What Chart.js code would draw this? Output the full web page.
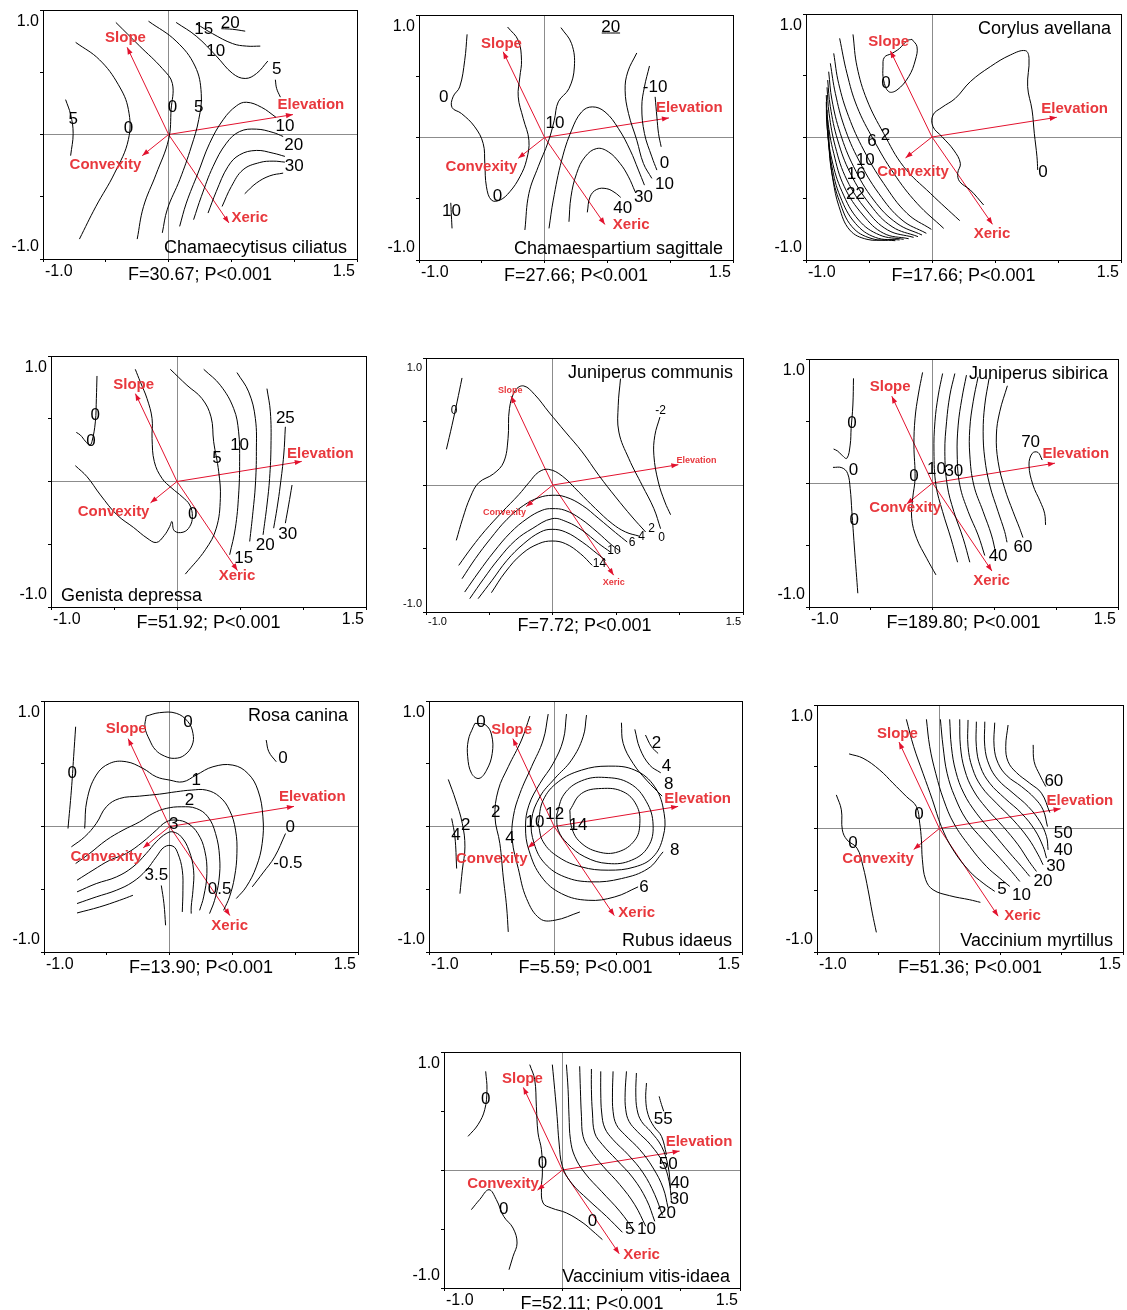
<!DOCTYPE html>
<html>
<head>
<meta charset="utf-8">
<script src="https://cdn.jsdelivr.net/npm/chart.js@4.4.0/dist/chart.umd.min.js"></script>
<style>
  body { margin: 0; background: #fff; width: 1127px; height: 1310px; position: relative; overflow: hidden; }
  canvas { position: absolute; }
</style>
</head>
<body>
<script>
// biplot arrows, same for every species
const envNames = ['Slope', 'Elevation', 'Convexity', 'Xeric'];
const envX = [-0.33, 0.99, -0.21, 0.48];
const envY = [0.70, 0.16, -0.17, -0.71];

const speciesNames = ['Chamaecytisus ciliatus', 'Chamaespartium sagittale', 'Corylus avellana',
  'Genista depressa', 'Juniperus communis', 'Juniperus sibirica', 'Rosa canina', 'Rubus idaeus',
  'Vaccinium myrtillus', 'Vaccinium vitis-idaea'];
const fTests = ['F=30.67; P<0.001', 'F=27.66; P<0.001', 'F=17.66; P<0.001', 'F=51.92; P<0.001',
  'F=7.72; P<0.001', 'F=189.80; P<0.001', 'F=13.90; P<0.001', 'F=5.59; P<0.001',
  'F=51.36; P<0.001', 'F=52.11; P<0.001'];
const xTickText = ['-1.0', '1.5'];
const yTickText = ['-1.0', '1.0'];

// contour lines (x, y in ordination units) and their labels
const ciliatusLines = [
  [[-0.82,0.28],[-0.78,0.16],[-0.76,0.01],[-0.78,-0.17]],
  [[-0.74,0.74],[-0.55,0.60],[-0.40,0.40],[-0.32,0.20],[-0.32,-0.04],[-0.43,-0.31],[-0.58,-0.58],[-0.71,-0.84]],
  [[-0.42,0.90],[-0.23,0.71],[-0.05,0.53],[0.03,0.41],[0.02,0.20],[0.00,-0.04],[-0.10,-0.32],[-0.20,-0.58],[-0.25,-0.84]],
  [[-0.16,0.91],[0.06,0.75],[0.21,0.55],[0.26,0.33],[0.24,0.12],[0.18,-0.10],[0.09,-0.36],[-0.01,-0.60],[-0.05,-0.79]],
  [[0.06,0.90],[0.22,0.79],[0.38,0.63],[0.51,0.49],[0.61,0.45],[0.70,0.49],[0.79,0.59]],
  [[0.22,0.89],[0.35,0.81],[0.51,0.73],[0.62,0.71],[0.73,0.71]],
  [[0.42,0.85],[0.51,0.845],[0.61,0.83]],
  [[0.85,0.44],[0.86,0.37],[0.89,0.30]],
  [[0.088,-0.738],[0.141,-0.551],[0.234,-0.310],[0.327,-0.070],[0.434,0.118],[0.540,0.230],[0.620,0.259],[0.739,0.219],[0.854,0.139]],
  [[0.199,-0.684],[0.261,-0.497],[0.354,-0.257],[0.460,-0.070],[0.566,0.024],[0.699,0.043],[0.832,0.016],[0.912,-0.016]],
  [[0.314,-0.631],[0.380,-0.457],[0.473,-0.257],[0.566,-0.163],[0.699,-0.128],[0.832,-0.150],[0.926,-0.176]],
  [[0.426,-0.578],[0.500,-0.417],[0.593,-0.283],[0.726,-0.225],[0.832,-0.214],[0.926,-0.222]],
  [[0.606,-0.476],[0.699,-0.390],[0.806,-0.332],[0.912,-0.310]]
];
const ciliatusText = [['5',-0.76,0.12],['0',-0.32,0.05],['0',0.03,0.22],['5',0.24,0.22],['10',0.375,0.67],
  ['15',0.28,0.845],['20',0.49,0.89],['5',0.86,0.52],['10',0.926,0.064],['20',0.997,-0.088],['30',1.0,-0.257]];

const sagittaleLines = [
  [[-0.617,0.842],[-0.636,0.630],[-0.676,0.413],[-0.729,0.332],[-0.737,0.245],[-0.662,0.196],[-0.556,0.087],[-0.489,-0.049],[-0.476,-0.212],[-0.463,-0.402],[-0.423,-0.511],[-0.356,-0.511],[-0.277,-0.443],[-0.197,-0.321],[-0.144,-0.185],[-0.125,-0.022],[-0.170,0.155],[-0.210,0.332],[-0.197,0.495],[-0.184,0.630],[-0.210,0.793],[-0.295,0.902]],
  [[0.130,0.897],[0.215,0.766],[0.237,0.576],[0.194,0.399],[0.109,0.291],[0.077,0.141],[0.029,-0.035],[-0.051,-0.239],[-0.125,-0.457],[-0.157,-0.755]],
  [[-0.747,-0.533],[-0.742,-0.64],[-0.737,-0.742]],
  [[0.455,0.853],[0.601,0.853]],
  [[0.035,-0.742],[0.069,-0.511],[0.136,-0.185],[0.215,0.060],[0.295,0.209],[0.380,0.250],[0.481,0.209],[0.588,0.073],[0.681,-0.103],[0.747,-0.266],[0.795,-0.389]],
  [[0.194,-0.688],[0.210,-0.484],[0.255,-0.293],[0.322,-0.158],[0.415,-0.090],[0.508,-0.117],[0.601,-0.212],[0.668,-0.321],[0.721,-0.443]],
  [[0.340,-0.611],[0.362,-0.484],[0.415,-0.424],[0.495,-0.418],[0.561,-0.451],[0.606,-0.489]],
  [[0.734,0.690],[0.662,0.535],[0.641,0.386],[0.668,0.196],[0.734,-0.022],[0.787,-0.212],[0.854,-0.334]],
  [[0.835,0.584],[0.795,0.413],[0.774,0.250],[0.795,0.033],[0.854,-0.158],[0.894,-0.266]],
  [[0.880,0.332],[0.894,0.168],[0.907,0.033],[0.928,-0.076]]
];
const sagittaleText = [['0',-0.803,0.326],['0',-0.375,-0.484],['10',0.082,0.114],['10',-0.742,-0.606],['20',0.527,0.902],
  ['30',0.787,-0.492],['40',0.622,-0.579],['10',0.955,-0.383],['0',0.955,-0.207],['-10',0.880,0.408]];

const avellanaLines = [
  [[-0.627,0.834],[-0.595,0.572],[-0.516,0.301],[-0.384,0.030],[-0.225,-0.241],[-0.013,-0.458],[0.220,-0.680]],
  [[-0.733,0.802],[-0.675,0.518],[-0.595,0.247],[-0.463,-0.024],[-0.304,-0.295],[-0.119,-0.539],[0.093,-0.743]],
  [[-0.780,0.680],[-0.741,0.436],[-0.661,0.165],[-0.542,-0.106],[-0.384,-0.377],[-0.198,-0.621],[-0.005,-0.751]],
  [[-0.807,0.599],[-0.767,0.355],[-0.696,0.084],[-0.582,-0.187],[-0.423,-0.458],[-0.238,-0.675],[-0.045,-0.783]],
  [[-0.820,0.531],[-0.794,0.301],[-0.728,0.030],[-0.622,-0.241],[-0.463,-0.512],[-0.278,-0.702],[-0.079,-0.797]],
  [[-0.828,0.463],[-0.807,0.247],[-0.749,-0.024],[-0.648,-0.295],[-0.489,-0.553],[-0.317,-0.729],[-0.111,-0.810]],
  [[-0.833,0.404],[-0.817,0.192],[-0.767,-0.079],[-0.675,-0.350],[-0.521,-0.593],[-0.352,-0.756],[-0.146,-0.816]],
  [[-0.839,0.341],[-0.828,0.138],[-0.780,-0.133],[-0.696,-0.404],[-0.548,-0.634],[-0.384,-0.783],[-0.185,-0.827]],
  [[-0.839,0.287],[-0.833,0.084],[-0.794,-0.187],[-0.714,-0.444],[-0.582,-0.675],[-0.415,-0.797],[-0.225,-0.832]],
  [[-0.833,0.220],[-0.828,0.030],[-0.794,-0.241],[-0.728,-0.485],[-0.608,-0.702],[-0.450,-0.816],[-0.257,-0.837]],
  [[-0.828,0.138],[-0.820,-0.051],[-0.794,-0.295],[-0.733,-0.526],[-0.635,-0.729],[-0.484,-0.824],[-0.291,-0.843]],
  [[-0.820,0.057],[-0.812,-0.133],[-0.786,-0.350],[-0.738,-0.566],[-0.653,-0.756],[-0.516,-0.832],[-0.357,-0.837]],
  [[-0.159,0.794],[-0.119,0.734],[-0.132,0.626],[-0.185,0.491],[-0.278,0.382],[-0.344,0.369],[-0.384,0.463],[-0.389,0.572],[-0.378,0.648],[-0.317,0.680],[-0.257,0.721],[-0.198,0.783],[-0.159,0.794]],
  [[0.410,-0.553],[0.304,-0.431],[0.220,-0.363],[0.204,-0.295],[0.225,-0.214],[0.172,-0.106],[0.079,0.003],[0.008,0.084],[0.008,0.179],[0.079,0.241],[0.185,0.314],[0.304,0.450],[0.463,0.572],[0.622,0.667],[0.741,0.702],[0.770,0.640],[0.759,0.409],[0.794,0.220],[0.812,0.030],[0.833,-0.160],[0.839,-0.268]]
];
const avellanaText = [['2',-0.370,0.016],['6',-0.476,-0.038],['10',-0.529,-0.187],['16',-0.601,-0.301],['22',-0.608,-0.463],
  ['0',-0.365,0.436],['0',0.881,-0.290]];

const depressaLines = [
  [[-0.635,0.841],[-0.640,0.661],[-0.648,0.475],[-0.675,0.317],[-0.693,0.290],[-0.728,0.322],[-0.767,0.370],[-0.799,0.391]],
  [[-0.807,0.126],[-0.714,0.038],[-0.608,-0.107],[-0.476,-0.266],[-0.344,-0.367],[-0.238,-0.451],[-0.164,-0.486],[-0.101,-0.430],[-0.058,-0.359],[-0.040,-0.319],[-0.021,-0.393],[0.048,-0.404],[0.101,-0.359],[0.122,-0.279],[0.101,-0.187],[0.040,-0.121],[-0.040,-0.054],[-0.119,0.025],[-0.180,0.158],[-0.198,0.343],[-0.198,0.502],[-0.238,0.661],[-0.291,0.793],[-0.331,0.894]],
  [[-0.053,0.894],[0.079,0.767],[0.198,0.661],[0.270,0.515],[0.291,0.317],[0.331,0.078],[0.344,-0.134],[0.312,-0.372],[0.225,-0.544],[0.066,-0.738]],
  [[0.212,0.894],[0.344,0.767],[0.450,0.581],[0.489,0.396],[0.497,0.158],[0.489,-0.107],[0.463,-0.372],[0.418,-0.584]],
  [[0.476,0.868],[0.569,0.714],[0.622,0.502],[0.630,0.237],[0.622,-0.028],[0.603,-0.240],[0.577,-0.478]],
  [[0.714,0.740],[0.741,0.555],[0.746,0.290],[0.735,0.025],[0.714,-0.187],[0.683,-0.425]],
  [[0.860,0.436],[0.847,0.211],[0.820,-0.028],[0.794,-0.213],[0.767,-0.372]],
  [[0.913,-0.028],[0.886,-0.187],[0.860,-0.332]]
];
const depressaText = [['0',-0.648,0.528],['0',-0.683,0.317],['0',0.124,-0.258],['5',0.317,0.184],['10',0.497,0.290],
  ['15',0.529,-0.611],['20',0.701,-0.505],['25',0.860,0.502],['30',0.878,-0.420]];

const communisLines = [
  [[-0.716,0.843],[-0.755,0.654],[-0.795,0.470],[-0.839,0.281]],
  [[-0.761,-0.436],[-0.711,-0.265],[-0.650,-0.094],[-0.584,0.018],[-0.466,0.089],[-0.387,0.181],[-0.353,0.365],[-0.342,0.601],[-0.295,0.745],[-0.229,0.780],[-0.142,0.711],[-0.032,0.575],[0.100,0.417],[0.232,0.260],[0.363,0.076],[0.495,-0.094],[0.626,-0.252],[0.732,-0.370]],
  [[0.534,0.837],[0.516,0.627],[0.521,0.417],[0.600,0.207],[0.705,-0.003],[0.797,-0.186],[0.850,-0.344]],
  [[0.845,0.535],[0.805,0.391],[0.797,0.234],[0.832,0.024],[0.884,-0.134],[0.929,-0.234]],
  [[-0.742,-0.633],[-0.637,-0.488],[-0.532,-0.357],[-0.400,-0.213],[-0.268,-0.076],[-0.189,0.018],[-0.111,0.102],[-0.032,0.123],[0.074,0.071],[0.205,-0.055],[0.337,-0.186],[0.468,-0.304],[0.574,-0.370],[0.679,-0.402]],
  [[-0.716,-0.738],[-0.611,-0.580],[-0.492,-0.423],[-0.361,-0.270],[-0.229,-0.160],[-0.111,-0.100],[-0.005,-0.081],[0.100,-0.094],[0.232,-0.160],[0.363,-0.265],[0.495,-0.375],[0.587,-0.449]],
  [[-0.695,-0.843],[-0.584,-0.685],[-0.466,-0.528],[-0.334,-0.375],[-0.203,-0.265],[-0.084,-0.199],[-0.005,-0.186],[0.095,-0.199],[0.218,-0.265],[0.350,-0.370],[0.468,-0.475],[0.534,-0.522]],
  [[-0.655,-0.895],[-0.545,-0.738],[-0.426,-0.580],[-0.295,-0.436],[-0.163,-0.344],[-0.005,-0.265],[0.113,-0.291],[0.232,-0.357],[0.363,-0.462],[0.455,-0.528]],
  [[-0.589,-0.895],[-0.479,-0.751],[-0.361,-0.593],[-0.229,-0.462],[-0.097,-0.370],[-0.005,-0.349],[0.100,-0.370],[0.232,-0.449],[0.350,-0.541],[0.416,-0.593]],
  [[-0.484,-0.848],[-0.374,-0.685],[-0.242,-0.541],[-0.111,-0.462],[-0.005,-0.441],[0.100,-0.462],[0.218,-0.541],[0.311,-0.633]]
];
const communisText = [['0',-0.779,0.588],['-2',0.850,0.588],['2',0.779,-0.344],['0',0.858,-0.415],['4',0.700,-0.409],
  ['6',0.626,-0.454],['10',0.482,-0.514],['14',0.368,-0.619]];

const sibiricaLines = [
  [[-0.640,0.844],[-0.645,0.629],[-0.659,0.441],[-0.667,0.306],[-0.694,0.199],[-0.734,0.225],[-0.769,0.258],[-0.801,0.274]],
  [[-0.806,0.126],[-0.734,0.123],[-0.688,0.078],[-0.667,-0.043],[-0.653,-0.231],[-0.634,-0.500],[-0.618,-0.714],[-0.605,-0.889]],
  [[-0.081,0.892],[-0.116,0.710],[-0.142,0.522],[-0.151,0.306],[-0.142,0.038],[-0.161,-0.123],[-0.169,-0.285],[-0.129,-0.446],[-0.048,-0.607],[0.027,-0.741]],
  [[0.081,0.883],[0.046,0.709],[0.019,0.494],[0.011,0.252],[0.027,-0.016],[0.081,-0.231],[0.148,-0.446],[0.202,-0.639]],
  [[0.180,0.883],[0.140,0.709],[0.113,0.494],[0.099,0.252],[0.118,-0.016],[0.172,-0.231],[0.247,-0.446],[0.301,-0.639]],
  [[0.274,0.870],[0.237,0.682],[0.207,0.467],[0.199,0.226],[0.220,-0.016],[0.288,-0.231],[0.368,-0.419],[0.422,-0.585]],
  [[0.368,0.856],[0.328,0.655],[0.301,0.440],[0.301,0.226],[0.333,-0.016],[0.409,-0.231],[0.476,-0.419],[0.511,-0.566]],
  [[0.457,0.843],[0.422,0.628],[0.409,0.413],[0.422,0.199],[0.462,-0.016],[0.530,-0.231],[0.583,-0.392],[0.602,-0.478]],
  [[0.605,0.784],[0.543,0.574],[0.516,0.387],[0.530,0.172],[0.583,-0.043],[0.651,-0.231],[0.704,-0.365],[0.731,-0.440]],
  [[0.887,0.185],[0.852,0.247],[0.806,0.239],[0.780,0.145],[0.812,-0.016],[0.871,-0.150],[0.906,-0.244],[0.914,-0.338]]
];
const sibiricaText = [['0',-0.653,0.481],['0',-0.640,0.105],['0',-0.634,-0.298],['0',-0.151,0.051],['10',0.032,0.113],
  ['30',0.172,0.097],['40',0.530,-0.593],['60',0.731,-0.518],['70',0.793,0.325]];

const caninaLines = [
  [[-0.748,0.795],[-0.764,0.556],[-0.782,0.290],[-0.809,-0.016]],
  [[-0.186,0.880],[-0.080,0.907],[0.053,0.902],[0.146,0.835],[0.186,0.742],[0.180,0.649],[0.119,0.569],[0.040,0.543],[-0.040,0.561],[-0.111,0.609],[-0.159,0.689],[-0.196,0.790],[-0.186,0.880]],
  [[0.769,0.689],[0.790,0.596],[0.849,0.516]],
  [[-0.676,-0.016],[-0.658,0.210],[-0.584,0.410],[-0.477,0.503],[-0.345,0.516],[-0.212,0.463],[-0.106,0.396],[0,0.370],[0.106,0.356],[0.212,0.410],[0.345,0.476],[0.504,0.489],[0.623,0.423],[0.703,0.290],[0.743,0.077],[0.737,-0.136],[0.690,-0.322],[0.610,-0.481],[0.531,-0.574]],
  [[-0.782,-0.162],[-0.676,-0.082],[-0.584,0.024],[-0.504,0.157],[-0.398,0.223],[-0.239,0.242],[-0.080,0.258],[0.053,0.277],[0.172,0.290],[0.292,0.290],[0.398,0.237],[0.477,0.130],[0.525,-0.029],[0.536,-0.215],[0.517,-0.402],[0.477,-0.561],[0.430,-0.668]],
  [[-0.748,-0.295],[-0.637,-0.215],[-0.504,-0.109],[-0.371,-0.029],[-0.239,0.037],[-0.133,0.104],[-0.027,0.144],[0.093,0.157],[0.212,0.144],[0.305,0.077],[0.366,-0.056],[0.398,-0.242],[0.393,-0.428],[0.358,-0.588],[0.318,-0.694]],
  [[-0.737,-0.428],[-0.610,-0.348],[-0.477,-0.269],[-0.345,-0.215],[-0.212,-0.122],[-0.106,-0.029],[-0.027,0.037],[0.053,0.051],[0.146,0.024],[0.225,-0.056],[0.279,-0.189],[0.297,-0.375],[0.271,-0.561],[0.239,-0.668]],
  [[-0.737,-0.521],[-0.584,-0.455],[-0.424,-0.402],[-0.292,-0.322],[-0.186,-0.215],[-0.106,-0.122],[-0.027,-0.056],[0.027,-0.043],[0.093,-0.082],[0.154,-0.189],[0.191,-0.348],[0.186,-0.508],[0.172,-0.641],[0.172,-0.694]],
  [[-0.737,-0.614],[-0.584,-0.561],[-0.424,-0.508],[-0.292,-0.441],[-0.186,-0.348],[-0.106,-0.242],[-0.040,-0.162],[0.027,-0.157],[0.066,-0.215],[0.101,-0.348],[0.106,-0.508],[0.101,-0.681]],
  [[-0.737,-0.689],[-0.557,-0.641],[-0.398,-0.588],[-0.292,-0.548]],
  [[-0.066,-0.470],[-0.045,-0.614],[-0.032,-0.787]],
  [[0.658,-0.481],[0.743,-0.370],[0.836,-0.242],[0.923,-0.056]]
];
const caninaText = [['0',-0.775,0.423],['0',0.146,0.830],['0',0.902,0.543],['1',0.212,0.370],['2',0.159,0.210],
  ['3',0.032,0.019],['3.5',-0.106,-0.388],['0.5',0.398,-0.503],['-0.5',0.942,-0.295],['0',0.960,-0.003]];

const idaeusLines = [
  [[-0.633,0.822],[-0.548,0.809],[-0.500,0.729],[-0.495,0.582],[-0.540,0.449],[-0.601,0.383],[-0.660,0.423],[-0.691,0.556],[-0.686,0.689],[-0.646,0.795],[-0.633,0.822]],
  [[-0.846,0.375],[-0.787,0.210],[-0.734,0.024],[-0.713,-0.162],[-0.734,-0.348],[-0.753,-0.535]],
  [[-0.819,0.064],[-0.793,-0.082],[-0.779,-0.335]],
  [[-0.194,0.880],[-0.261,0.689],[-0.367,0.476],[-0.447,0.290],[-0.473,0.077],[-0.434,-0.136],[-0.407,-0.402],[-0.380,-0.641],[-0.367,-0.840]],
  [[-0.048,0.896],[-0.088,0.689],[-0.181,0.476],[-0.274,0.263],[-0.327,0.077],[-0.335,-0.109],[-0.287,-0.335],[-0.221,-0.574],[-0.114,-0.734],[0.005,-0.747],[0.205,-0.681]],
  [[0.098,0.896],[0.072,0.689],[-0.008,0.503],[-0.114,0.343],[-0.202,0.170],[-0.229,-0.003],[-0.202,-0.189],[-0.101,-0.402],[0.059,-0.535],[0.271,-0.588],[0.484,-0.561],[0.670,-0.481]],
  [[0.258,0.888],[0.231,0.715],[0.138,0.529],[0.005,0.383],[-0.114,0.237],[-0.181,0.051],[-0.160,-0.136],[-0.074,-0.295],[0.085,-0.402],[0.298,-0.441],[0.537,-0.415],[0.750,-0.335],[0.870,-0.202]],
  [[-0.128,0.024],[-0.088,0.210],[0.032,0.356],[0.218,0.449],[0.431,0.481],[0.644,0.449],[0.803,0.316],[0.878,0.104],[0.870,-0.082],[0.790,-0.242],[0.644,-0.322],[0.431,-0.348],[0.218,-0.322],[0.032,-0.242],[-0.088,-0.122],[-0.128,0.024]],
  [[0.019,0.090],[0.080,0.258],[0.218,0.364],[0.404,0.391],[0.604,0.343],[0.737,0.197],[0.790,0.011],[0.750,-0.162],[0.617,-0.269],[0.431,-0.295],[0.245,-0.242],[0.106,-0.136],[0.032,-0.029],[0.019,0.090]],
  [[0.125,0.130],[0.218,0.263],[0.378,0.303],[0.551,0.277],[0.657,0.170],[0.684,0.024],[0.644,-0.109],[0.511,-0.202],[0.351,-0.202],[0.205,-0.122],[0.138,-0.003],[0.125,0.130]],
  [[0.537,0.827],[0.551,0.662],[0.630,0.503],[0.737,0.370],[0.862,0.242]],
  [[0.644,0.774],[0.684,0.622],[0.763,0.489],[0.851,0.428]],
  [[0.729,0.729],[0.777,0.636],[0.830,0.582]]
];
const idaeusText = [['0',-0.585,0.830],['2',-0.707,0.011],['4',-0.785,-0.074],['2',-0.468,0.117],['4',-0.354,-0.096],
  ['10',-0.154,0.037],['12',0.005,0.098],['14',0.191,0.011],['2',0.816,0.662],['4',0.896,0.476],['8',0.915,0.338],
  ['8',0.963,-0.189],['6',0.718,-0.481]];

const myrtillusLines = [
  [[-0.842,0.272],[-0.801,0.151],[-0.793,-0.011],[-0.755,-0.092],[-0.673,-0.159],[-0.624,-0.307],[-0.583,-0.496],[-0.548,-0.685],[-0.515,-0.841]],
  [[-0.738,0.604],[-0.624,0.569],[-0.488,0.474],[-0.379,0.367],[-0.270,0.259],[-0.188,0.178],[-0.161,0.043],[-0.147,-0.092],[-0.139,-0.253],[-0.112,-0.415],[-0.052,-0.496],[0.084,-0.544],[0.248,-0.577],[0.335,-0.598]],
  [[-0.270,0.884],[-0.210,0.663],[-0.134,0.447],[-0.057,0.232],[0.016,0.016],[0.112,-0.173],[0.248,-0.348],[0.357,-0.442],[0.452,-0.509]],
  [[-0.106,0.884],[-0.079,0.663],[-0.030,0.447],[0.035,0.232],[0.117,0.043],[0.248,-0.146],[0.384,-0.307],[0.493,-0.402],[0.575,-0.469]],
  [[0.008,0.884],[0.030,0.663],[0.063,0.447],[0.125,0.259],[0.221,0.070],[0.357,-0.092],[0.493,-0.240],[0.589,-0.348],[0.657,-0.429]],
  [[0.084,0.884],[0.098,0.663],[0.134,0.461],[0.199,0.286],[0.302,0.124],[0.439,-0.038],[0.575,-0.199],[0.670,-0.307],[0.738,-0.388]],
  [[0.166,0.884],[0.172,0.663],[0.207,0.474],[0.275,0.313],[0.384,0.164],[0.520,0.016],[0.643,-0.132],[0.733,-0.267],[0.793,-0.348]],
  [[0.234,0.879],[0.234,0.663],[0.270,0.488],[0.343,0.340],[0.466,0.205],[0.602,0.070],[0.725,-0.078],[0.807,-0.213],[0.847,-0.294]],
  [[0.302,0.865],[0.302,0.663],[0.335,0.501],[0.411,0.367],[0.534,0.245],[0.670,0.124],[0.779,-0.011],[0.847,-0.146],[0.875,-0.240]],
  [[0.371,0.865],[0.371,0.663],[0.406,0.515],[0.480,0.394],[0.602,0.286],[0.725,0.178],[0.820,0.057],[0.875,-0.065],[0.888,-0.173]],
  [[0.452,0.857],[0.447,0.663],[0.480,0.528],[0.553,0.426],[0.670,0.340],[0.779,0.245],[0.847,0.151],[0.883,0.016]],
  [[0.561,0.838],[0.542,0.663],[0.561,0.542],[0.629,0.453],[0.738,0.367],[0.834,0.286],[0.902,0.129]],
  [[0.766,0.677],[0.774,0.542],[0.820,0.434],[0.869,0.340]]
];
const myrtillusText = [['0',-0.706,-0.119],['0',-0.166,0.116],['60',0.935,0.380],['50',1.011,-0.038],['40',1.011,-0.173],
  ['30',0.951,-0.307],['20',0.847,-0.429],['10',0.670,-0.544],['5',0.512,-0.496]];

const vitisLines = [
  [[-0.648,0.836],[-0.637,0.681],[-0.656,0.511],[-0.713,0.384],[-0.797,0.285]],
  [[-0.769,-0.336],[-0.699,-0.251],[-0.620,-0.167],[-0.558,-0.251],[-0.496,-0.393],[-0.417,-0.492],[-0.383,-0.619],[-0.417,-0.732],[-0.451,-0.845]],
  [[-0.276,0.893],[-0.234,0.766],[-0.220,0.540],[-0.206,0.314],[-0.177,0.172],[-0.169,-0.025],[-0.177,-0.153],[-0.163,-0.280],[-0.093,-0.322],[0.034,-0.364],[0.175,-0.449],[0.259,-0.520],[0.338,-0.590]],
  [[-0.085,0.893],[-0.065,0.681],[-0.045,0.455],[-0.028,0.229],[0,0.031],[0.076,-0.110],[0.217,-0.251],[0.372,-0.393],[0.507,-0.528]],
  [[0.034,0.893],[0.048,0.681],[0.056,0.455],[0.068,0.257],[0.104,0.116],[0.189,-0.025],[0.330,-0.181],[0.485,-0.350],[0.611,-0.520]],
  [[0.146,0.879],[0.152,0.681],[0.161,0.455],[0.175,0.285],[0.231,0.172],[0.344,0.031],[0.485,-0.124],[0.611,-0.294],[0.704,-0.477]],
  [[0.245,0.856],[0.245,0.681],[0.254,0.483],[0.273,0.314],[0.338,0.215],[0.456,0.088],[0.597,-0.068],[0.710,-0.251],[0.780,-0.435]],
  [[0.324,0.836],[0.324,0.653],[0.332,0.483],[0.358,0.356],[0.428,0.257],[0.555,0.130],[0.682,-0.025],[0.780,-0.209],[0.845,-0.384]],
  [[0.428,0.836],[0.423,0.653],[0.428,0.497],[0.456,0.384],[0.527,0.299],[0.654,0.172],[0.766,0.017],[0.851,-0.153],[0.893,-0.322]],
  [[0.541,0.836],[0.530,0.653],[0.535,0.511],[0.563,0.412],[0.631,0.328],[0.744,0.215],[0.851,0.059],[0.901,-0.096],[0.921,-0.257]],
  [[0.625,0.822],[0.620,0.653],[0.631,0.511],[0.668,0.412],[0.744,0.328],[0.837,0.201],[0.893,0.031],[0.913,-0.153]],
  [[0.710,0.737],[0.704,0.596],[0.724,0.469],[0.772,0.370],[0.837,0.285],[0.879,0.130]],
  [[0.817,0.624],[0.837,0.554],[0.856,0.497]]
];
const vitisText = [['0',-0.648,0.596],['0',-0.496,-0.336],['0',-0.169,0.054],['0',0.254,-0.435],['55',0.851,0.427],
  ['50',0.893,0.045],['40',0.992,-0.110],['30',0.986,-0.251],['20',0.879,-0.364],['10',0.710,-0.500],['5',0.569,-0.500]];

const allLines = [ciliatusLines, sagittaleLines, avellanaLines, depressaLines, communisLines,
  sibiricaLines, caninaLines, idaeusLines, myrtillusLines, vitisLines];
const allText = [ciliatusText, sagittaleText, avellanaText, depressaText, communisText,
  sibiricaText, caninaText, idaeusText, myrtillusText, vitisText];

// layout: plot box on the page (left, top, right, bottom) and placement of text
const boxes = [[43,10,357,259],[419,15,733,260],[806,14,1121,260],[51,356,366,607],[426,358,743,612],
  [809,359,1118,607],[44,701,358,952],[429,701,742,952],[817,705,1123,952],[444,1052,740,1288]];
const nameCorner = ['br','br','tr','bl','tr','tr','tr','br','br','br'];
const envLabelAt = [
  [[-0.343,0.773],[1.133,0.235],[-0.503,-0.243],[0.646,-0.671]],
  [[-0.343,0.766],[1.152,0.245],[-0.503,-0.239],[0.689,-0.715]],
  [[-0.344,0.775],[1.132,0.228],[-0.151,-0.287],[0.476,-0.789]],
  [[-0.344,0.772],[1.138,0.224],[-0.503,-0.240],[0.476,-0.751]],
  [[-0.335,0.745],[1.134,0.194],[-0.380,-0.213],[0.480,-0.769]],
  [[-0.343,0.772],[1.158,0.232],[-0.222,-0.203],[0.477,-0.788]],
  [[-0.345,0.777],[1.136,0.237],[-0.504,-0.242],[0.478,-0.795]],
  [[-0.340,0.769],[1.146,0.218],[-0.499,-0.255],[0.659,-0.689]],
  [[-0.343,0.763],[1.148,0.226],[-0.501,-0.248],[0.679,-0.706]],
  [[-0.338,0.774],[1.154,0.240],[-0.501,-0.116],[0.669,-0.718]]
];

const FONT = '"Liberation Sans", Arial, sans-serif';
const RED_TEXT = '#e8383d';
const RED_LINE = '#e2122e';

function decor(i) {
  const small = i === 4;
  return {
    id: 'decor' + i,
    afterDatasetsDraw(chart) {
      const ctx = chart.ctx;
      const a = chart.chartArea;
      const xs = chart.scales.x, ys = chart.scales.y;
      ctx.save();
      // arrow heads
      const ox = xs.getPixelForValue(0), oy = ys.getPixelForValue(0);
      ctx.fillStyle = RED_LINE;
      envNames.forEach((n, k) => {
        const tx = xs.getPixelForValue(envX[k]), ty = ys.getPixelForValue(envY[k]);
        const ang = Math.atan2(ty - oy, tx - ox);
        const len = 7, half = 2.6;
        ctx.beginPath();
        ctx.moveTo(tx, ty);
        ctx.lineTo(tx - len * Math.cos(ang) + half * Math.sin(ang), ty - len * Math.sin(ang) - half * Math.cos(ang));
        ctx.lineTo(tx - len * Math.cos(ang) - half * Math.sin(ang), ty - len * Math.sin(ang) + half * Math.cos(ang));
        ctx.closePath();
        ctx.fill();
      });
      // contour labels
      ctx.fillStyle = '#000';
      ctx.textAlign = 'center';
      ctx.textBaseline = 'middle';
      ctx.font = (small ? 12 : 17) + 'px ' + FONT;
      allText[i].forEach(t => {
        ctx.fillText(t[0], xs.getPixelForValue(t[1]), ys.getPixelForValue(t[2]));
      });
      // variable names
      ctx.fillStyle = RED_TEXT;
      ctx.font = 'bold ' + (small ? 9 : 15) + 'px ' + FONT;
      envNames.forEach((n, k) => {
        const p = envLabelAt[i][k];
        ctx.fillText(n, xs.getPixelForValue(p[0]), ys.getPixelForValue(p[1]));
      });
      ctx.restore();
    },
    afterDraw(chart) {
      const ctx = chart.ctx;
      const a = chart.chartArea;
      const xs = chart.scales.x, ys = chart.scales.y;
      ctx.save();
      ctx.strokeStyle = '#000';
      ctx.lineWidth = 1;
      ctx.strokeRect(Math.round(a.left) + 0.5, Math.round(a.top) + 0.5,
        Math.round(a.right - a.left), Math.round(a.bottom - a.top));
      ctx.fillStyle = '#000';
      // end tick labels
      const tf = small ? 11 : 16;
      ctx.font = tf + 'px ' + FONT;
      ctx.textBaseline = 'middle';
      const ly = a.bottom + (small ? 10 : 13);
      ctx.textAlign = 'left';
      ctx.fillText(xTickText[0], xs.getPixelForValue(-1) + 2, ly);
      ctx.textAlign = 'right';
      ctx.fillText(xTickText[1], xs.getPixelForValue(1.5) - 2, ly);
      ctx.fillText(yTickText[1], a.left - 4, ys.getPixelForValue(1) + (small ? 10 : 12));
      ctx.fillText(yTickText[0], a.left - 4, ys.getPixelForValue(-1) - (small ? 8 : 12));
      // F test
      ctx.font = '18px ' + FONT;
      ctx.textAlign = 'center';
      ctx.fillText(fTests[i], (a.left + a.right) / 2, a.bottom + (small ? 14 : 16));
      // species name
      const c = nameCorner[i];
      ctx.textAlign = c === 'bl' ? 'left' : 'right';
      const nx = c === 'bl' ? a.left + 10 : a.right - 10;
      const ny = c === 'tr' ? a.top + 15 : a.bottom - 11;
      ctx.fillText(speciesNames[i], nx, ny);
      ctx.restore();
    }
  };
}

function makePanel(i) {
  const [L, T, R, B] = boxes[i];
  const W = R - L + 49, H = B - T + 40;
  const cv = document.createElement('canvas');
  cv.width = W; cv.height = H;
  cv.style.left = (L - 45) + 'px';
  cv.style.top = (T - 8) + 'px';
  cv.style.width = W + 'px';
  cv.style.height = H + 'px';
  document.body.appendChild(cv);

  const datasets = allLines[i].map(line => ({
    data: line.map(p => ({ x: p[0], y: p[1] })),
    showLine: true,
    borderColor: '#000',
    borderWidth: 1,
    pointRadius: 0,
    tension: 0.4,
    fill: false
  }));
  envNames.forEach((n, k) => {
    datasets.push({
      data: [{ x: 0, y: 0 }, { x: envX[k], y: envY[k] }],
      showLine: true,
      borderColor: RED_LINE,
      borderWidth: 1,
      pointRadius: 0,
      tension: 0
    });
  });

  const gridOpts = {
    drawOnChartArea: true,
    color: c => (c.tick && c.tick.value === 0) ? '#8c8c8c' : 'rgba(0,0,0,0)',
    tickColor: '#000',
    tickLength: 3,
    lineWidth: 1
  };

  new Chart(cv, {
    type: 'scatter',
    data: { datasets },
    options: {
      responsive: false,
      animation: false,
      events: [],
      devicePixelRatio: 1,
      layout: { padding: { left: 0, top: 8, right: 4, bottom: 0 } },
      plugins: { legend: { display: false }, tooltip: { enabled: false } },
      scales: {
        x: {
          type: 'linear', position: 'bottom', min: -1, max: 1.5,
          ticks: { stepSize: 0.5, display: false },
          grid: gridOpts,
          border: { display: false },
          afterFit: s => { s.height = 32; }
        },
        y: {
          type: 'linear', position: 'left', min: -1, max: 1,
          ticks: { stepSize: 0.5, display: false },
          grid: gridOpts,
          border: { display: false },
          afterFit: s => { s.width = 45; }
        }
      }
    },
    plugins: [decor(i)]
  });
}

for (let i = 0; i < boxes.length; i++) makePanel(i);
</script>
</body>
</html>
